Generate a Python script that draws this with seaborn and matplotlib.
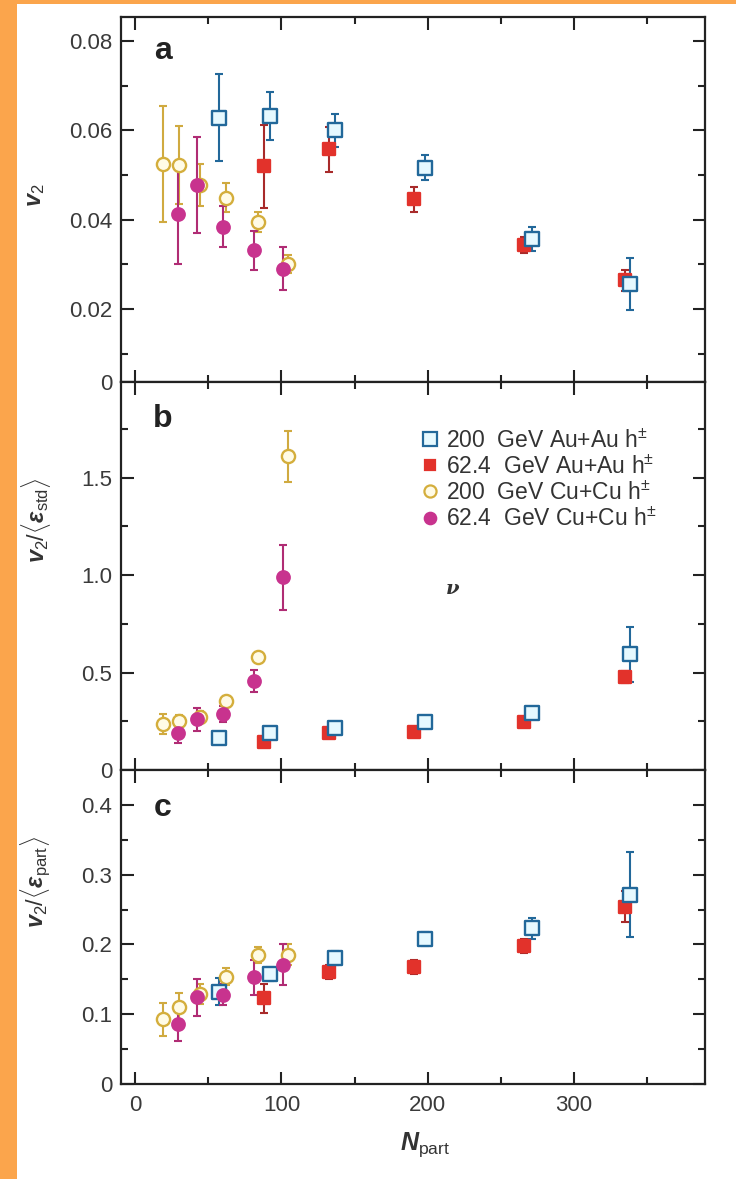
import matplotlib
matplotlib.use("Agg")
import matplotlib.pyplot as plt
import seaborn as sns
import pandas as pd
from matplotlib.lines import Line2D
from matplotlib.patches import Rectangle
from matplotlib.ticker import MultipleLocator, FixedLocator

# --- N_part for each collision system ---
npart_auau200 = [57, 92, 136.5, 198.5, 271.5, 338.5]
npart_auau62 = [88, 132.5, 190.7, 265.7, 335]
npart_cucu200 = [18.7, 30, 44, 62, 84, 104.5]
npart_cucu62 = [29.2, 42, 60, 81, 101]

# --- panel a: v2 ---
v2_auau200 = [0.0628, 0.0632, 0.0600, 0.0516, 0.0357, 0.0255]
v2_auau200_err = [0.0097, 0.0054, 0.0037, 0.0028, 0.0027, 0.0058]
v2_auau62 = [0.0519, 0.0557, 0.0445, 0.0344, 0.0264]
v2_auau62_err = [0.0093, 0.0050, 0.0028, 0.0018, 0.0024]
v2_cucu200 = [0.0525, 0.0522, 0.0477, 0.0449, 0.0395, 0.0301]
v2_cucu200_err = [0.0130, 0.0087, 0.0047, 0.0032, 0.0022, 0.0020]
v2_cucu62 = [0.0413, 0.0477, 0.0384, 0.0331, 0.0290]
v2_cucu62_err = [0.0112, 0.0107, 0.0046, 0.0044, 0.0048]

# --- panel b: v2 / <eps_std> ---
std_auau200 = [0.163, 0.188, 0.217, 0.246, 0.295, 0.593]
std_auau200_err = [0.010, 0.010, 0.010, 0.010, 0.012, 0.140]
std_auau62 = [0.146, 0.188, 0.195, 0.244, 0.477]
std_auau62_err = [0.010, 0.010, 0.010, 0.010, 0.030]
std_cucu200 = [0.236, 0.253, 0.274, 0.354, 0.579, 1.610]
std_cucu200_err = [0.053, 0.030, 0.030, 0.025, 0.025, 0.130]
std_cucu62 = [0.188, 0.260, 0.288, 0.457, 0.990]
std_cucu62_err = [0.047, 0.058, 0.040, 0.058, 0.167]

# --- panel c: v2 / <eps_part> ---
part_auau200 = [0.1325, 0.158, 0.180, 0.2075, 0.223, 0.271]
part_auau200_err = [0.019, 0.010, 0.010, 0.010, 0.015, 0.061]
part_auau62 = [0.123, 0.161, 0.168, 0.198, 0.254]
part_auau62_err = [0.021, 0.010, 0.010, 0.010, 0.022]
part_cucu200 = [0.0927, 0.111, 0.129, 0.154, 0.185, 0.185]
part_cucu200_err = [0.024, 0.019, 0.015, 0.012, 0.012, 0.015]
part_cucu62 = [0.086, 0.124, 0.1276, 0.153, 0.171]
part_cucu62_err = [0.025, 0.027, 0.015, 0.025, 0.029]

labels = {
    "auau200": r"200  GeV Au+Au h$^{\pm}$",
    "auau62": r"62.4  GeV Au+Au h$^{\pm}$",
    "cucu200": r"200  GeV Cu+Cu h$^{\pm}$",
    "cucu62": r"62.4  GeV Cu+Cu h$^{\pm}$",
}
npart = {"auau200": npart_auau200, "auau62": npart_auau62,
         "cucu200": npart_cucu200, "cucu62": npart_cucu62}
panels = [
    {"auau200": (v2_auau200, v2_auau200_err), "auau62": (v2_auau62, v2_auau62_err),
     "cucu200": (v2_cucu200, v2_cucu200_err), "cucu62": (v2_cucu62, v2_cucu62_err)},
    {"auau200": (std_auau200, std_auau200_err), "auau62": (std_auau62, std_auau62_err),
     "cucu200": (std_cucu200, std_cucu200_err), "cucu62": (std_cucu62, std_cucu62_err)},
    {"auau200": (part_auau200, part_auau200_err), "auau62": (part_auau62, part_auau62_err),
     "cucu200": (part_cucu200, part_cucu200_err), "cucu62": (part_cucu62, part_cucu62_err)},
]

# marker styles: (marker, face, edge, errorbar colour, size)
styles = {
    "cucu200": ("o", "#fffbe6", "#d4ae3c", "#d0aa40", 90),
    "auau62": ("s", "#e2322b", "#e2322b", "#a82a2a", 72),
    "auau200": ("s", "#e6f9ff", "#22689a", "#22689a", 105),
    "cucu62": ("o", "#c8338e", "#c8338e", "#b02c74", 80),
}
draw_order = ["cucu200", "auau62", "auau200", "cucu62"]
legend_order = ["auau200", "auau62", "cucu200", "cucu62"]

sns.set_theme(style="ticks")
plt.rcParams["font.family"] = ["Liberation Sans", "DejaVu Sans"]
plt.rcParams["mathtext.fontset"] = "custom"
plt.rcParams["mathtext.rm"] = "Liberation Sans"
plt.rcParams["mathtext.it"] = "Liberation Sans:italic:bold"
plt.rcParams["mathtext.bf"] = "Liberation Sans:bold"

W, H = 736, 1179
fig = plt.figure(figsize=(W / 100, H / 100), dpi=100, facecolor="#fba54c")
fig.patches.append(Rectangle((17 / W, 0), 1 - 17 / W, 1 - 4 / H,
                             transform=fig.transFigure, facecolor="white",
                             edgecolor="none", zorder=-10))

left, right = 120.7, 705.3
edges = [16.7, 381.7, 770.0, 1084.0]
axes = []
for i in range(3):
    top, bot = edges[i], edges[i + 1]
    ax = fig.add_axes([left / W, 1 - bot / H, (right - left) / W, (bot - top) / H])
    ax.set_facecolor("white")
    axes.append(ax)

for ax, pdata in zip(axes, panels):
    for key in draw_order:
        vals, errs = pdata[key]
        marker, face, edge, ecol, size = styles[key]
        df = pd.DataFrame({"npart": npart[key], "value": vals, "err": errs})
        ax.errorbar(df["npart"], df["value"], yerr=df["err"], fmt="none",
                    ecolor=ecol, elinewidth=1.5, capsize=3, capthick=1.5,
                    zorder=2)
        sns.scatterplot(data=df, x="npart", y="value", marker=marker, s=size,
                        color=face, edgecolor=edge, linewidth=1.7, ax=ax,
                        legend=False, zorder=3)
    ax.set_xlabel("")
    ax.set_ylabel("")
    ax.set_xlim(-10, 390)
    ax.xaxis.set_major_locator(MultipleLocator(100))
    ax.xaxis.set_minor_locator(MultipleLocator(50))
    ax.tick_params(which="both", direction="in", top=True, right=True,
                   width=1.5, colors="#222222", labelcolor="#3a3a3a",
                   labelsize=16, pad=6)
    ax.tick_params(which="major", length=9)
    ax.tick_params(which="minor", length=5)
    for sp in ax.spines.values():
        sp.set_linewidth(1.6)
        sp.set_color("#222222")

ax_a, ax_b, ax_c = axes

# panel a: v2
a_bottom = 0.0037
ax_a.set_ylim(a_bottom, 0.0854)
ax_a.yaxis.set_major_locator(FixedLocator([a_bottom, 0.02, 0.04, 0.06, 0.08]))
ax_a.set_yticklabels(["0", "0.02", "0.04", "0.06", "0.08"])
ax_a.yaxis.set_minor_locator(FixedLocator([0.01, 0.03, 0.05, 0.07]))
ax_a.tick_params(labelbottom=False)

# panel b: v2/<eps_std>
ax_b.set_ylim(0, 1.993)
ax_b.yaxis.set_major_locator(FixedLocator([0, 0.5, 1.0, 1.5]))
ax_b.set_yticklabels(["0", "0.5", "1.0", "1.5"])
ax_b.yaxis.set_minor_locator(FixedLocator([0.25, 0.75, 1.25, 1.75]))
ax_b.tick_params(labelbottom=False)

# panel c: v2/<eps_part>
ax_c.set_ylim(0, 0.45)
ax_c.yaxis.set_major_locator(FixedLocator([0, 0.1, 0.2, 0.3, 0.4]))
ax_c.set_yticklabels(["0", "0.1", "0.2", "0.3", "0.4"])
ax_c.yaxis.set_minor_locator(FixedLocator([0.05, 0.15, 0.25, 0.35]))
ax_c.tick_params(axis="x", pad=8)

# panel letters
for ax, letter, yfrac in [(ax_a, "a", 0.905), (ax_b, "b", 0.905), (ax_c, "c", 0.88)]:
    ax.text(0.072, yfrac, letter, transform=ax.transAxes, fontsize=23,
            fontweight="bold", color="#222222", ha="center", va="center")

# legend
handles = []
for key in legend_order:
    marker, face, edge, ecol, size = styles[key]
    handles.append(Line2D([], [], linestyle="none", marker=marker,
                          markersize=size ** 0.5 * 0.92, markerfacecolor=face,
                          markeredgecolor=edge, markeredgewidth=1.6,
                          label=labels[key]))
ax_b.legend(handles=handles, loc="upper left", bbox_to_anchor=(0.515, 0.878),
            frameon=False, fontsize=16.5, handlelength=0.75, handletextpad=0.3,
            labelspacing=0.12, borderpad=0, borderaxespad=0,
            labelcolor="#333333")

# stray nu glyph inside panel b
fig.text(453 / W, 1 - 589 / H, "ν", fontsize=14, fontstyle="italic",
         fontweight="bold", family=["DejaVu Serif"], color="#333333",
         ha="center", va="center")

# axis labels
fig.text(36 / W, 1 - 195 / H, r"$v_2$", rotation=90, fontsize=17,
         color="#333333", ha="center", va="center")
fig.text(36 / W, 1 - 520 / H, r"$v_2/\langle \varepsilon_{\rm std}\rangle$",
         rotation=90, fontsize=17, color="#333333", ha="center", va="center")
fig.text(36 / W, 1 - 882 / H, r"$v_2/\langle \varepsilon_{\rm part}\rangle$",
         rotation=90, fontsize=17, color="#333333", ha="center", va="center")
fig.text(425 / W, 1 - 1145 / H, r"$N_{\rm part}$", fontsize=18,
         color="#333333", ha="center", va="center")

fig.savefig("out.png", dpi=100, facecolor=fig.get_facecolor())
